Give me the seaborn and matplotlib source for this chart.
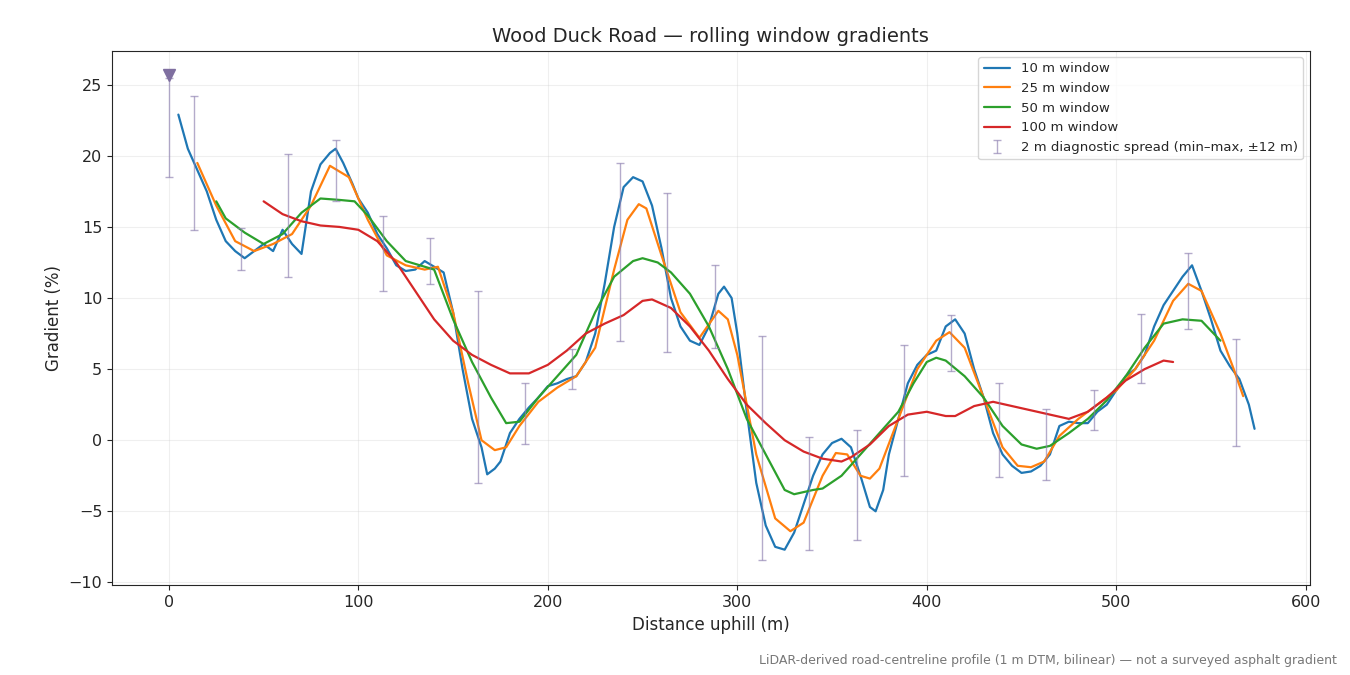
import numpy as np
import pandas as pd
import matplotlib
matplotlib.use("Agg")
import matplotlib.pyplot as plt
import seaborn as sns

# 10 m window
x10 = [5,10,15,20,25,30,35,40,45,50,55,60,65,70,75,80,85,88,92,97,100,105,110,115,120,125,130,135,140,145,150,155,160,165,168,172,175,180,185,190,195,200,205,210,215,220,225,230,235,240,245,250,255,260,265,270,275,280,285,290,293,297,300,305,310,315,320,325,330,335,340,345,350,355,360,365,370,373,377,380,385,390,395,400,405,410,415,420,425,430,435,440,445,450,455,460,465,470,475,480,485,490,495,500,505,510,515,520,525,530,535,540,545,550,555,560,565,570,573]
y10 = [22.9,20.5,19,17.5,15.5,14,13.3,12.8,13.3,13.8,13.3,14.8,13.8,13.1,17.5,19.4,20.2,20.5,19.5,18,17,16,14.5,13.5,12.3,11.9,12,12.6,12.2,11.8,9,5,1.5,-0.5,-2.4,-2,-1.5,0.5,1.5,2.3,3,3.8,4,4.3,4.5,5.5,7.5,11,15,17.8,18.5,18.2,16.5,13.5,10,8,7,6.7,8,10.3,10.8,10,7.5,2,-3,-6,-7.5,-7.7,-6.5,-4.5,-2.5,-1,-0.2,0.1,-0.5,-2.5,-4.7,-5,-3.5,-1,1.5,4,5.3,6,6.3,8,8.5,7.5,5,3,0.5,-1,-1.8,-2.3,-2.2,-1.8,-1,1,1.3,1.2,1.2,2,2.5,3.5,4.5,5,6,8,9.5,10.5,11.5,12.3,10.5,8.5,6.3,5.2,4.3,2.5,0.8]

# 25 m window
x25 = [15,25,35,45,55,65,75,85,95,105,115,125,135,142,150,158,165,172,178,185,195,205,215,225,235,242,248,252,260,270,280,290,295,300,310,320,328,335,345,352,358,365,370,375,385,395,405,412,420,430,440,448,455,462,470,480,490,500,510,520,530,538,545,555,562,567]
y25 = [19.5,16.5,14,13.3,13.8,14.5,16.5,19.3,18.5,15.5,13,12.3,12,12.2,9,4,0,-0.7,-0.5,1,2.7,3.7,4.5,6.5,12,15.5,16.6,16.3,13,9,7.2,9.1,8.5,6,-1,-5.5,-6.4,-5.8,-2.5,-0.9,-1,-2.5,-2.7,-2,1.5,5,7,7.6,6.5,3,-0.5,-1.8,-1.9,-1.5,0.3,1.5,2.5,3.5,5,7,9.8,11,10.5,7.5,5,3.1]

# 50 m window
x50 = [25,30,40,50,60,70,80,90,98,105,115,125,135,140,150,160,170,178,185,195,205,215,225,235,245,250,258,265,275,285,295,305,315,325,330,340,345,355,365,375,385,393,400,405,410,420,430,440,450,458,465,475,485,495,505,515,525,535,545,555]
y50 = [16.8,15.6,14.6,13.8,14.5,16,17,16.9,16.8,15.8,14,12.6,12.2,12,8.5,5.5,3,1.2,1.3,3,4.5,6,9,11.5,12.6,12.8,12.5,11.8,10.3,8,5,1.5,-1,-3.5,-3.8,-3.5,-3.4,-2.5,-1,0.5,2,4,5.5,5.8,5.6,4.5,3,1,-0.3,-0.6,-0.4,0.5,1.5,2.8,4.5,6.5,8.2,8.5,8.4,7]

# 100 m window
x100 = [50,60,70,80,90,100,110,120,130,140,150,160,170,180,190,200,210,220,230,240,250,255,265,275,285,295,305,315,325,335,345,355,360,370,380,390,400,410,415,425,435,445,455,465,475,485,495,505,515,525,530]
y100 = [16.8,15.9,15.4,15.1,15,14.8,14,12.5,10.5,8.5,7,6,5.3,4.7,4.7,5.3,6.3,7.5,8.2,8.8,9.8,9.9,9.3,8,6.3,4.3,2.5,1.2,0,-0.8,-1.3,-1.5,-1.2,-0.3,1,1.8,2,1.7,1.7,2.4,2.7,2.4,2.1,1.8,1.5,2,3,4.2,5,5.6,5.5]

# 2 m diagnostic spread (min-max)
xd = [0,13,38,63,88,113,138,163,188,213,238,263,288,313,338,363,388,413,438,463,488,513,538,563]
lo = [18.5,14.8,12,11.5,16.8,10.5,11,-3,-0.3,3.6,7,6.2,6.5,-8.4,-7.7,-7,-2.5,4.9,-2.6,-2.8,0.7,4,7.8,-0.4]
hi = [25.5,24.2,14.9,20.1,21.1,15.8,14.2,10.5,4,6.4,19.5,17.4,12.3,7.3,0.2,0.7,6.7,8.8,4,2.2,3.5,8.9,13.2,7.1]

sns.set_style("ticks")
fig, ax = plt.subplots(figsize=(13.5, 6.75), dpi=100)

series = [(x10, y10, "10 m window", "#1f77b4"), (x25, y25, "25 m window", "#ff7f0e"),
          (x50, y50, "50 m window", "#2ca02c"), (x100, y100, "100 m window", "#d62728")]
for xs, ys, lab, c in series:
    sns.lineplot(x=xs, y=ys, ax=ax, color=c, lw=1.6, label=lab)

mid = (np.array(lo) + np.array(hi)) / 2
err = [mid - np.array(lo), np.array(hi) - mid]
ax.errorbar(xd, mid, yerr=err, fmt="none", ecolor="#8c7fb0", alpha=0.65, lw=1.0,
            capsize=3, label="2 m diagnostic spread (min\u2013max, \u00b112 m)")
ax.plot([0], [25.7], marker="v", color="#7f6fa0", ms=8, ls="none")

ax.set_xlim(-30, 602)
ax.set_ylim(-10.2, 27.4)
ax.grid(True, alpha=0.3)
ax.set_xlabel("Distance uphill (m)", fontsize=12)
ax.set_ylabel("Gradient (%)", fontsize=12)
ax.set_title("Wood Duck Road \u2014 rolling window gradients", fontsize=14)
ax.tick_params(labelsize=11.5)
ax.legend(loc="upper right", fontsize=9.5)
fig.text(0.99, 0.012, "LiDAR-derived road-centreline profile (1 m DTM, bilinear) \u2014 not a surveyed asphalt gradient",
         ha="right", va="bottom", fontsize=9, color="#777777")
fig.subplots_adjust(left=0.083, right=0.97, top=0.925, bottom=0.133)
fig.savefig("out.png")
